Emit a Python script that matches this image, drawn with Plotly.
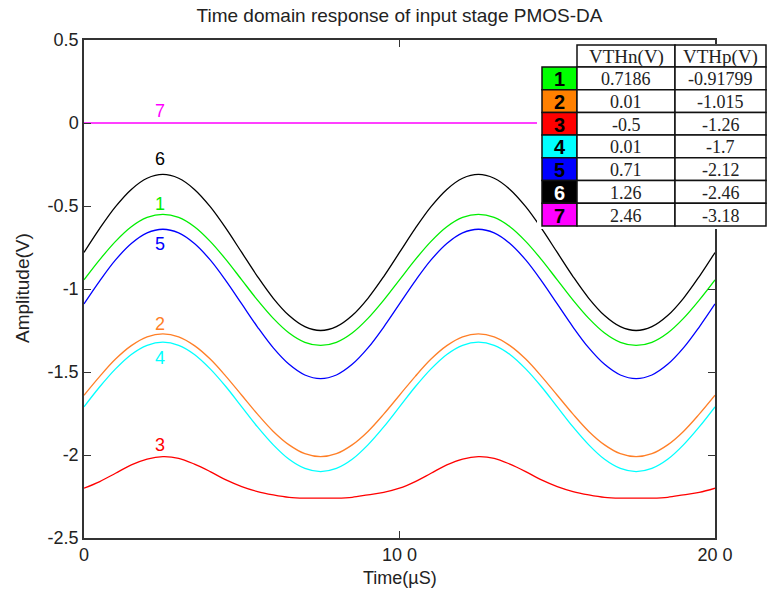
import plotly.graph_objects as go

# ---------------- data ----------------
time_us = [0, 5, 10, 15, 20, 25, 30, 35, 40, 45, 50, 55, 60, 65, 70, 75, 80, 85, 90, 95,
           100, 105, 110, 115, 120, 125, 130, 135, 140, 145, 150, 155, 160, 165, 170, 175,
           180, 185, 190, 195, 200]

curve1_green = [-0.945, -0.823, -0.713, -0.625, -0.569, -0.55, -0.569, -0.625, -0.713, -0.823,
                -0.945, -1.067, -1.177, -1.265, -1.321, -1.34, -1.321, -1.265, -1.177, -1.067,
                -0.945, -0.823, -0.713, -0.625, -0.569, -0.55, -0.569, -0.625, -0.713, -0.823,
                -0.945, -1.067, -1.177, -1.265, -1.321, -1.34, -1.321, -1.265, -1.177, -1.067,
                -0.945]
curve2_orange = [-1.64, -1.526, -1.422, -1.341, -1.288, -1.27, -1.288, -1.341, -1.422, -1.526,
                 -1.64, -1.754, -1.858, -1.939, -1.992, -2.01, -1.992, -1.939, -1.858, -1.754,
                 -1.64, -1.526, -1.422, -1.341, -1.288, -1.27, -1.288, -1.341, -1.422, -1.526,
                 -1.64, -1.754, -1.858, -1.939, -1.992, -2.01, -1.992, -1.939, -1.858, -1.754,
                 -1.64]
curve3_red = [-2.20, -2.16, -2.11, -2.06, -2.025, -2.01, -2.02, -2.055, -2.10, -2.15,
              -2.19, -2.22, -2.24, -2.255, -2.26, -2.26, -2.26, -2.255, -2.24, -2.225,
              -2.20, -2.16, -2.11, -2.06, -2.025, -2.01, -2.02, -2.055, -2.10, -2.15,
              -2.19, -2.22, -2.24, -2.255, -2.26, -2.26, -2.26, -2.255, -2.24, -2.225,
              -2.20]
curve4_cyan = [-1.71, -1.589, -1.481, -1.394, -1.339, -1.32, -1.339, -1.394, -1.481, -1.589,
               -1.71, -1.831, -1.939, -2.026, -2.081, -2.10, -2.081, -2.026, -1.939, -1.831,
               -1.71, -1.589, -1.481, -1.394, -1.339, -1.32, -1.339, -1.394, -1.481, -1.589,
               -1.71, -1.831, -1.939, -2.026, -2.081, -2.10, -2.081, -2.026, -1.939, -1.831,
               -1.71]
curve5_blue = [-1.09, -0.951, -0.825, -0.726, -0.662, -0.64, -0.662, -0.726, -0.825, -0.951,
               -1.09, -1.229, -1.355, -1.454, -1.518, -1.54, -1.518, -1.454, -1.355, -1.229,
               -1.09, -0.951, -0.825, -0.726, -0.662, -0.64, -0.662, -0.726, -0.825, -0.951,
               -1.09, -1.229, -1.355, -1.454, -1.518, -1.54, -1.518, -1.454, -1.355, -1.229,
               -1.09]
curve6_black = [-0.78, -0.635, -0.504, -0.40, -0.333, -0.31, -0.333, -0.40, -0.504, -0.635,
                -0.78, -0.925, -1.056, -1.16, -1.227, -1.25, -1.227, -1.16, -1.056, -0.925,
                -0.78, -0.635, -0.504, -0.40, -0.333, -0.31, -0.333, -0.40, -0.504, -0.635,
                -0.78, -0.925, -1.056, -1.16, -1.227, -1.25, -1.227, -1.16, -1.056, -0.925,
                -0.78]
curve7_magenta = [0.0] * 41

series_ids = ["1", "2", "3", "4", "5", "6", "7"]
vthn = ["0.7186", "0.01", "-0.5", "0.01", "0.71", "1.26", "2.46"]
vthp = ["-0.91799", "-1.015", "-1.26", "-1.7", "-2.12", "-2.46", "-3.18"]
table_headers = ["VTHn(V)", "VTHp(V)"]

# curve label positions (time, amplitude)
label_t = [24, 24, 24, 24, 24, 24, 24]
label_y = [-0.488, -1.21, -1.94, -1.416, -0.729, -0.217, 0.072]

x_ticks = [0, 100, 200]
x_ticktext = ["0", "10 0", "20 0"]
y_ticks = [0.5, 0, -0.5, -1, -1.5, -2, -2.5]
y_ticktext = ["0.5", "0", "-0.5", "-1", "-1.5", "-2", "-2.5"]

# ---------------- style ----------------
colors = ["#00ee00", "#ff7f27", "#ff0000", "#00ffff", "#0000ff", "#000000", "#ff00ff"]
cell_colors = ["#00ff00", "#ff8000", "#ff0000", "#00ffff", "#0000ff", "#000000", "#ff00ff"]
cell_text_colors = ["#000000", "#000000", "#000000", "#000000", "#000000", "#ffffff", "#000000"]
curves = [curve1_green, curve2_orange, curve3_red, curve4_cyan, curve5_blue, curve6_black, curve7_magenta]

W, H = 771, 594
L, R, T, B = 84, 715, 40, 538


def px(xp):
    return (xp - L) / (R - L)


def py(yp):
    return (B - yp) / (B - T)


fig = go.Figure()
order = [6, 5, 0, 4, 1, 3, 2]
for i in order:
    fig.add_trace(go.Scatter(x=time_us, y=curves[i], mode="lines",
                             line=dict(color=colors[i], width=1.3, shape="spline"),
                             showlegend=False, hoverinfo="skip"))

annotations = []
sans = "Liberation Sans, Arial, sans-serif"
serif = "Liberation Serif, Times New Roman, serif"
for i in range(7):
    annotations.append(dict(x=label_t[i], y=label_y[i], xref="x", yref="y", text=series_ids[i],
                            showarrow=False, font=dict(family=sans, size=18, color=colors[i]),
                            xanchor="center", yanchor="middle"))

shapes = []
shapes.append(dict(type="rect", xref="paper", yref="paper", x0=px(537), x1=px(771),
                   y0=py(229), y1=py(44), fillcolor="white", line=dict(width=0), layer="above"))
c0, c1, c2, c3 = 542, 577, 675, 766
hy0, hy1 = 45, 67
rh = 22.7
for (xa, xb, txt) in [(c1, c2, table_headers[0]), (c2, c3, table_headers[1])]:
    shapes.append(dict(type="rect", xref="paper", yref="paper", x0=px(xa), x1=px(xb),
                       y0=py(hy1), y1=py(hy0), fillcolor="white",
                       line=dict(color="#111", width=1.5), layer="above"))
    annotations.append(dict(x=px((xa + xb) / 2), y=py((hy0 + hy1) / 2 + 1), xref="paper", yref="paper",
                            text=txt, showarrow=False, font=dict(family=serif, size=19, color="#222"),
                            xanchor="center", yanchor="middle"))
for r in range(7):
    ya = hy1 + r * rh
    yb = ya + rh
    shapes.append(dict(type="rect", xref="paper", yref="paper", x0=px(c0), x1=px(c1),
                       y0=py(yb), y1=py(ya), fillcolor=cell_colors[r],
                       line=dict(color="#111", width=1.5), layer="above"))
    for (xa, xb) in [(c1, c2), (c2, c3)]:
        shapes.append(dict(type="rect", xref="paper", yref="paper", x0=px(xa), x1=px(xb),
                           y0=py(yb), y1=py(ya), fillcolor="white",
                           line=dict(color="#111", width=1.5), layer="above"))
    ym = py((ya + yb) / 2 + 1)
    annotations.append(dict(x=px((c0 + c1) / 2), y=ym, xref="paper", yref="paper",
                            text="<b>" + series_ids[r] + "</b>", showarrow=False,
                            font=dict(family=sans, size=20, color=cell_text_colors[r]),
                            xanchor="center", yanchor="middle"))
    annotations.append(dict(x=px((c1 + c2) / 2), y=ym, xref="paper", yref="paper",
                            text=vthn[r], showarrow=False, font=dict(family=serif, size=18, color="#222"),
                            xanchor="center", yanchor="middle"))
    annotations.append(dict(x=px((c2 + c3) / 2), y=ym, xref="paper", yref="paper",
                            text=vthp[r], showarrow=False, font=dict(family=serif, size=18, color="#222"),
                            xanchor="center", yanchor="middle"))

annotations.append(dict(x=px(400), y=py(578), xref="paper", yref="paper", text="Time(µS)",
                        showarrow=False, font=dict(family=sans, size=18, color="#222"),
                        xanchor="center", yanchor="middle"))
annotations.append(dict(x=px(22), y=py(288), xref="paper", yref="paper", text="Amplitude(V)",
                        showarrow=False, textangle=-90, font=dict(family=sans, size=19, color="#222"),
                        xanchor="center", yanchor="middle"))

axis_common = dict(showline=True, linecolor="#333", linewidth=1.5, mirror="ticks",
                   ticks="inside", ticklen=7, tickcolor="#333", tickwidth=1.2,
                   showgrid=False, zeroline=False,
                   tickfont=dict(family=sans, size=18, color="#222"))

fig.update_layout(
    width=W, height=H,
    margin=dict(l=L, r=W - R, t=T, b=H - B),
    paper_bgcolor="white", plot_bgcolor="white",
    title=dict(text="Time domain response of input stage PMOS-DA", x=0.5, xref="paper",
               y=1 - 15 / H, yref="container", xanchor="center", yanchor="middle",
               font=dict(family=sans, size=19, color="#222")),
    xaxis=dict(range=[0, 200], tickvals=x_ticks, ticktext=x_ticktext, **axis_common),
    yaxis=dict(range=[-2.5, 0.5], tickvals=y_ticks, ticktext=y_ticktext, **axis_common),
    shapes=shapes, annotations=annotations,
)

fig.write_html("out.html")
